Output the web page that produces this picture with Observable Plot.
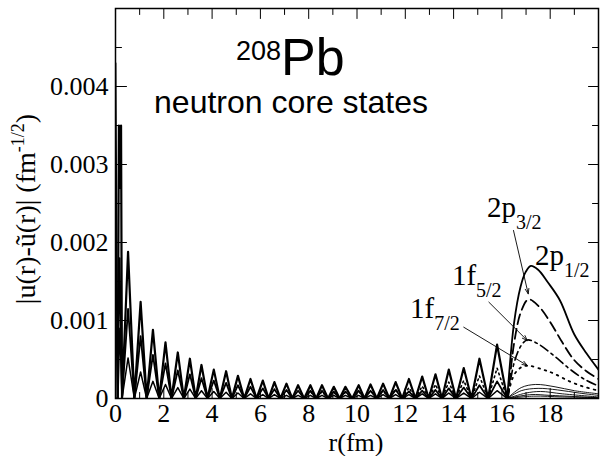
<!DOCTYPE html>
<html><head><meta charset="utf-8">
<script src="https://cdn.jsdelivr.net/npm/d3@7"></script>
<script src="https://cdn.jsdelivr.net/npm/@observablehq/plot@0.6"></script>
<style>body{margin:0;background:#fff} svg{display:block}</style>
</head><body><div id="chart"></div>
<script>
// ---- data ----
const archZeros = [0.27,0.78,1.29,1.81,2.32,2.83,3.32,3.81,4.32,4.82,5.33,5.84,6.34,6.83,7.32,7.81,8.31,8.80,9.28,9.80,10.31,10.82,11.34,11.87,12.42,12.97,13.52,14.10,14.74,15.43,16.22];
const archTops = [0.52,1.04,1.55,2.07,2.58,3.08,3.56,4.07,4.58,5.07,5.59,6.10,6.58,7.08,7.56,8.07,8.55,9.04,9.52,10.07,10.56,11.08,11.60,12.15,12.70,13.25,13.80,14.42,15.07,15.80];
const peaksA = [0.00188,0.00124,0.00088,0.00072,0.00059,0.00051,0.00043,0.00037,0.00035,0.00029,0.00025,0.00023,0.00021,0.00019,0.00017,0.00017,0.00017,0.00015,0.00015,0.00017,0.00018,0.00019,0.00021,0.00025,0.00028,0.00031,0.00037,0.00039,0.00051,0.00069];
const peaksB = [0.00115,0.00080,0.00056,0.00045,0.00036,0.00031,0.00026,0.00023,0.00020,0.00017,0.00015,0.00013,0.00012,0.00011,0.00010,0.00010,0.00010,0.00009,0.00009,0.00010,0.00010,0.00011,0.00011,0.00009,0.00010,0.00011,0.00013,0.00014,0.00017,0.00022];
const peaksC = [0.00052,0.00034,0.00022,0.00018,0.00014,0.00012,0.00010,0.00009,0.00008,0.00007,0.00006,0.00005,0.00005,0.00004,0.00004,0.00004,0.00004,0.00004,0.00004,0.00004,0.00004,0.00005,0.00005,0.00005,0.00006,0.00006,0.00007,0.00007,0.00008,0.00010];
const dottedFrom = 15;
const peaksDotted = [0.00009,0.00009,0.00008,0.00008,0.00009,0.00010,0.00010,0.00012,0.00014,0.00016,0.00018,0.00021,0.00023,0.00029,0.00039];

const spikeR_A = [0, 0.09, 0.14, 0.19, 0.23];
const spikeV_A = [0, 0, 0.0035, 0.0027, 0.0035];
const spikeR_B = [0, 0.08, 0.17];
const spikeV_B = [0.0043, 0, 0.0018];
const spikeR_C = [0, 0.10, 0.18];
const spikeV_C = [0.0012, 0, 0.0009];

// tails beyond r = 16.2 fm
const tailR_2p12 = [16.5, 16.77, 16.98, 17.2, 17.5, 17.9, 18.4, 19.0, 19.5, 20];
const tailV_2p12 = [0.00096, 0.00143, 0.00162, 0.0017, 0.00165, 0.00149, 0.00126, 0.00082, 0.00058, 0.00037];
const tailR_2p32 = [16.25, 16.5, 16.8, 17.1, 17.5, 18.0, 18.5, 19.0, 19.5, 20];
const tailV_2p32 = [0, 0.0007, 0.00112, 0.00127, 0.00119, 0.00098, 0.00072, 0.00049, 0.00035, 0.00025];
const tailR_1f52 = [16.25, 16.5, 16.8, 17.05, 17.5, 18.15, 18.8, 19.4, 20];
const tailV_1f52 = [0, 0.00045, 0.00068, 0.00075, 0.0007, 0.00055, 0.00038, 0.00025, 0.00016];
const tailR_1f72 = [16.5, 16.8, 17.1, 17.7, 18.15, 18.8, 19.4, 20];
const tailV_1f72 = [0.0003, 0.0004, 0.00042, 0.00037, 0.00032, 0.00022, 0.00015, 0.0001];
const tailR_B = [16.8, 17.4, 18.2, 19.0, 20];
const tailV_B = [0.00014, 0.00018, 0.00015, 0.0001, 0.00006];
const tailR_C = [16.8, 17.5, 18.3, 19.2, 20];
const tailV_C = [0.0001, 0.00013, 0.00011, 0.00007, 0.00004];
const thinR = [[16.22, 17.0, 17.6, 18.5, 20], [16.22, 17.2, 18.0, 20], [16.22, 17.3, 18.5, 20]];
const thinV = [[0, 0.00007, 0.00009, 0.00006, 0.00002], [0, 0.00005, 0.00004, 0.00001], [0, 0.00003, 0.00002, 0.00001]];

// ticks
const xLabelTicks = [0,2,4,6,8,10,12,14,16,18];
const xMajorTicks = [2,4,6,8,10,12,14,16,18];
const xMinorTicks = [1,3,5,7,9,11,13,15,17,19];
const yLabelTicks = [0,0.001,0.002,0.003,0.004];
const yMajorTicks = [0.001,0.002,0.003,0.004];
const yMinorTicks = [0.0005,0.0015,0.0025,0.0035,0.0045];

// annotations
const labelMain = ["2p","2p","1f","1f"];
const labelSub = ["3/2","1/2","5/2","7/2"];
const labelR = [15.40, 17.39, 13.95, 12.22];
const labelV = [0.00232, 0.001705, 0.001449, 0.001026];
const arrowR1 = [16.48, 15.46, 14.42];
const arrowV1 = [0.002154, 0.001235, 0.000914];
const arrowR2 = [17.09, 17.05, 17.05];
const arrowV2 = [0.001342, 0.000744, 0.000423];

// ---- build point lists ----
const zip = (R, V) => R.map((r, i) => [r, V[i]]);
function arches(peaks, from) {
  const pts = [];
  for (let i = from; i < archTops.length; i++) {
    pts.push([archZeros[i], 0]);
    pts.push([archTops[i], peaks[i - from]]);
  }
  pts.push([archZeros[archTops.length], 0]);
  return pts;
}
const lastZero = [archZeros[archTops.length], 0];
const oscA = [...zip(spikeR_A, spikeV_A), ...arches(peaksA, 0)];
const oscB = [...zip(spikeR_B, spikeV_B), ...arches(peaksB, 0)];
const oscC = [...zip(spikeR_C, spikeV_C), ...arches(peaksC, 0)];
const oscD = arches(peaksDotted, dottedFrom);
const tA = [lastZero, ...zip(tailR_2p12, tailV_2p12)];
const tB = [lastZero, ...zip(tailR_B, tailV_B)];
const tC = [lastZero, ...zip(tailR_C, tailV_C)];
const tD = [lastZero, ...zip(tailR_1f72, tailV_1f72)];
const tDash = zip(tailR_2p32, tailV_2p32);
const tDashDot = zip(tailR_1f52, tailV_1f52);
const thinCurves = thinR.map((R, k) => zip(R, thinV[k]));
const arrows = arrowR1.map((r, i) => ({x1: r, y1: arrowV1[i], x2: arrowR2[i], y2: arrowV2[i]}));

const tickShape = {draw(context, l) { context.moveTo(0, 0); context.lineTo(0, -l); }};
const vt = (data, opts) => Plot.vector(data, {anchor: "start", shape: tickShape, stroke: "black", strokeWidth: 1, ...opts});
const ln = (pts, opts) => Plot.line(pts, {x: d => d[0], y: d => d[1], stroke: "black", strokeLinejoin: "round", clip: true, ...opts});

const chart = Plot.plot({
  width: 601, height: 456,
  marginLeft: 115, marginRight: 3, marginTop: 8, marginBottom: 58,
  style: {fontFamily: "'Liberation Serif', serif", fontSize: "26px", background: "white", color: "black"},
  x: {domain: [0, 20]},
  y: {domain: [0, 0.005]},
  marks: [
    ...thinCurves.map(c => ln(c, {curve: "catmull-rom", strokeWidth: 0.9})),
    ln(tC, {curve: "catmull-rom", strokeWidth: 0.9}),
    ln(tB, {curve: "catmull-rom", strokeWidth: 0.9}),
    ln(oscC, {strokeWidth: 1.5}),
    ln(oscB, {strokeWidth: 1.8}),
    ln(oscD, {strokeWidth: 1.6, strokeDasharray: "1.6,3.5"}),
    ln(tD, {curve: "catmull-rom", strokeWidth: 1.8, strokeDasharray: "1.6,5"}),
    ln(tDashDot, {curve: "catmull-rom", strokeWidth: 1.6, strokeDasharray: "9,4,2.5,4"}),
    ln(tDash, {curve: "catmull-rom", strokeWidth: 1.8, strokeDasharray: "10,5"}),
    ln(oscA, {strokeWidth: 2.2}),
    ln(tA, {curve: "catmull-rom", strokeWidth: 1.8}),
    Plot.arrow(arrows, {x1: "x1", y1: "y1", x2: "x2", y2: "y2", stroke: "black", strokeWidth: 0.9, headLength: 9, headAngle: 40}),
    vt(yMajorTicks, {x: 0, y: d => d, rotate: 90, length: 11}),
    vt(yMinorTicks, {x: 0, y: d => d, rotate: 90, length: 6}),
    vt(yMajorTicks, {x: 20, y: d => d, rotate: -90, length: 10}),
    vt(yMinorTicks, {x: 20, y: d => d, rotate: -90, length: 6}),
    vt(xMajorTicks, {x: d => d, y: 0.005, rotate: 180, length: 10}),
    vt(xMinorTicks, {x: d => d, y: 0.005, rotate: 180, length: 6}),
    vt(xMajorTicks, {x: d => d, y: 0, rotate: 0, length: 10}),
    vt(xMinorTicks, {x: d => d, y: 0, rotate: 0, length: 6}),
    Plot.frame({stroke: "black", strokeWidth: 1.5}),
    Plot.axisX({ticks: xLabelTicks, tickSize: 0, tickPadding: 5, label: null, tickFormat: d => String(d), fontSize: 26}),
    Plot.axisY({ticks: yLabelTicks, tickSize: 0, tickPadding: 7, label: null, tickFormat: d => d === 0 ? "0" : d.toFixed(3), fontSize: 26})
  ]
});
document.getElementById("chart").appendChild(chart);

const svg = d3.select(chart);
const sx = chart.scale("x"), sy = chart.scale("y");
// curve labels
labelMain.forEach((m, i) => {
  const t = svg.append("text")
    .attr("x", sx.apply(labelR[i])).attr("y", sy.apply(labelV[i])).attr("text-anchor", "start")
    .attr("font-family", "'Liberation Serif', serif").attr("font-size", 29).attr("fill", "black");
  t.append("tspan").text(m);
  t.append("tspan").attr("font-size", 20).attr("dy", 12).text(labelSub[i]);
});
// title
const ttl = svg.append("text").attr("x", 236).attr("y", 75).attr("text-anchor", "start")
  .attr("font-family", "'Liberation Sans', Arial, sans-serif").attr("fill", "black");
ttl.append("tspan").attr("font-size", 27).attr("dy", -15).text("208");
ttl.append("tspan").attr("font-size", 52).attr("dy", 15).text("Pb");
svg.append("text").attr("x", 291).attr("y", 113).attr("text-anchor", "middle")
  .attr("font-family", "'Liberation Sans', Arial, sans-serif").attr("font-size", 32).attr("fill", "black")
  .text("neutron core states");
// axis titles
svg.append("text").attr("x", 356).attr("y", 451).attr("text-anchor", "middle")
  .attr("font-family", "'Liberation Serif', serif").attr("font-size", 26).attr("fill", "black")
  .text("r(fm)");
const yl = svg.append("text").attr("transform", "translate(35,209) rotate(-90)").attr("text-anchor", "middle")
  .attr("font-family", "'Liberation Serif', serif").attr("font-size", 28).attr("fill", "black");
yl.append("tspan").text("|u(r)-ũ(r)| (fm");
yl.append("tspan").attr("font-size", 18).attr("dy", -11).text("-1/2");
yl.append("tspan").attr("dy", 11).text(")");
</script>
</body></html>
